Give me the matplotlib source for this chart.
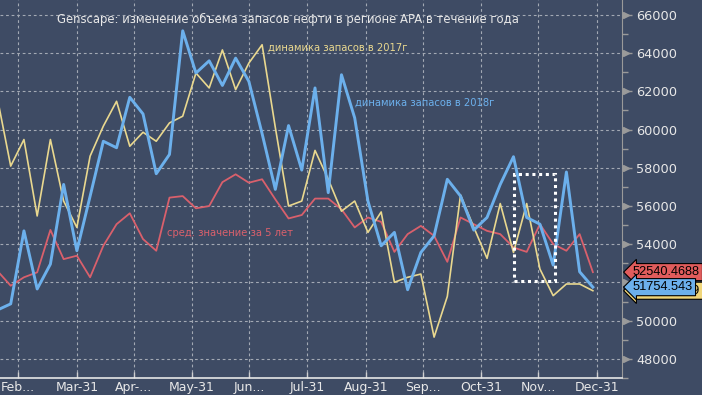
import datetime as dt
import matplotlib
matplotlib.use("Agg")
import matplotlib.pyplot as plt
import matplotlib.dates as mdates
import matplotlib.transforms as mtransforms
from matplotlib.patches import Rectangle

# ---------------- data ----------------
start_date = dt.datetime(2018, 2, 17)
n_weeks = 46
dates = [start_date + dt.timedelta(weeks=i) for i in range(n_weeks)]

stocks_2018 = [50560, 50880, 54700, 51660, 52960, 57130, 53660, 56510, 59390, 59050,
               61690, 60820, 57690, 58700, 65170, 62960, 63600, 62310, 63740, 62520,
               59790, 56870, 60210, 57880, 62180, 56700, 62870, 60610, 56260, 53920,
               54620, 51620, 53570, 54440, 57400, 56520, 54740, 55400, 57130, 58580,
               55400, 55050, 52910, 57780, 52560, 51754.543]

stocks_2017 = [61620, 58090, 59480, 55480, 59480, 56260, 54880, 58610, 60180, 61480,
               59130, 59860, 59390, 60350, 60700, 62960, 62180, 64170, 62090, 63480,
               64440, 60110, 56000, 56260, 58910, 57400, 55730, 56260, 54620, 55690,
               52010, 52270, 52440, 49140, 51270, 56580, 54890, 53260, 56130, 53570,
               56130, 52700, 51310, 51920, 51920, 51567.8789]

avg_5y = [52600, 51830, 52270, 52530, 54750, 53220, 53400, 52270, 53920, 55050,
          55620, 54270, 53660, 56440, 56520, 55880, 56000, 57250, 57660, 57220,
          57400, 56350, 55350, 55530, 56390, 56390, 55830, 54880, 55400, 55170,
          53600, 54530, 54960, 54440, 53080, 55400, 55050, 54700, 54530, 53830,
          53600, 55050, 54010, 53660, 54530, 52540.4688]

last_labels = ["52540.4688", "51754.543", "51567.8789"]

tick_dates = [dt.datetime(2018, 2, 28), dt.datetime(2018, 3, 31), dt.datetime(2018, 4, 30),
              dt.datetime(2018, 5, 31), dt.datetime(2018, 6, 30), dt.datetime(2018, 7, 31),
              dt.datetime(2018, 8, 31), dt.datetime(2018, 9, 30), dt.datetime(2018, 10, 31),
              dt.datetime(2018, 11, 30), dt.datetime(2018, 12, 31)]
tick_labels = ["Feb...", "Mar-31", "Apr-...", "May-31", "Jun...", "Jul-31",
               "Aug-31", "Sep...", "Oct-31", "Nov...", "Dec-31"]
y_ticks = list(range(48000, 66001, 2000))

title = "Genscape: изменение объема запасов нефти в регионе APA в течение года"
lbl_2017 = "динамика запасов в 2017г"
lbl_2018 = "динамика запасов в 2018г"
lbl_avg = "сред. значение за 5 лет"

# ---------------- style ----------------
BG = "#3e4b64"
BLUE = "#6cb0ec"
YELLOW = "#e9d88f"
RED = "#d9606c"
GRID = "#a3a9b4"
TXT = "#e8e8e8"

fig = plt.figure(figsize=(7.02, 3.95), dpi=100)
fig.patch.set_facecolor(BG)
ax = fig.add_axes([0.0, 17 / 395, 622 / 702, 1 - 17 / 395])
ax.set_facecolor(BG)

ax.plot(dates, avg_5y, color=RED, lw=1.3, zorder=3)
ax.plot(dates, stocks_2017, color=YELLOW, lw=1.2, zorder=4)
ax.plot(dates, stocks_2018, color=BLUE, lw=2.1, zorder=5)

ax.set_xlim(dt.datetime(2018, 2, 18, 8), dt.datetime(2019, 1, 13, 10))
ax.set_ylim(47070, 66782)

ax.set_xticks(tick_dates)
ax.set_xticklabels(tick_labels)
ax.set_yticks(y_ticks)
ax.set_yticklabels([str(v) for v in y_ticks])
ax.set_yticks(list(range(47000, 67000, 1000)), minor=True)

ax.yaxis.tick_right()
ax.tick_params(axis="y", which="major", length=7, width=1, color="#9a9a9a",
               labelcolor=TXT, labelsize=9.3, pad=3)
ax.tick_params(axis="y", which="minor", length=4, width=1, color="#9a9a9a")
ax.tick_params(axis="x", which="major", length=4, width=1, color="#cfcfcf",
               labelcolor=TXT, labelsize=9, pad=2, direction="in")

ax.grid(True, which="major", color=GRID, lw=0.8, ls=(0, (2.5, 2.5)))

for s in ["top", "left"]:
    ax.spines[s].set_visible(False)
ax.spines["right"].set_color("#9a9a9a")
ax.spines["bottom"].set_color("#e6e6e6")
ax.spines["bottom"].set_linewidth(1.2)

# triangle markers at major y ticks on the spine
trans = mtransforms.blended_transform_factory(ax.transAxes, ax.transData)
ax.plot([1.006] * len(y_ticks), y_ticks, ls="none", marker=">", ms=5,
        color="#9a9a9a", transform=trans, clip_on=False, zorder=6)

# texts
ax.text(57 / 622, 1 - 19 / 378, title, transform=ax.transAxes, color=TXT, fontsize=8.4,
        ha="left", va="center")
ax.text(268 / 622, 1 - 48 / 378, lbl_2017, transform=ax.transAxes, color=YELLOW,
        fontsize=7.2, ha="left", va="center", zorder=7)
ax.text(355 / 622, 1 - 103 / 378, lbl_2018, transform=ax.transAxes, color=BLUE,
        fontsize=7.2, ha="left", va="center", zorder=7)
ax.text(167 / 622, 1 - 233 / 378, lbl_avg, transform=ax.transAxes, color=RED,
        fontsize=7.2, ha="left", va="center", zorder=7)

# dotted highlight box
x0 = mdates.date2num(dt.datetime(2018, 11, 17, 10))
x1 = mdates.date2num(dt.datetime(2018, 12, 9))
rect = Rectangle((x0, 52090), x1 - x0, 57690 - 52090, fill=False, ec="white",
                 lw=2.2, ls=(0, (1, 1.2)), zorder=8)
ax.add_patch(rect)

# last value labels
for val, lab, col in [(stocks_2017[-1], last_labels[2], "#f0d67a"),
                      (avg_5y[-1], last_labels[0], "#e05c5c"),
                      (stocks_2018[-1], last_labels[1], BLUE)]:
    ax.text(1.0175, val, lab, transform=trans, color="black", fontsize=9.2,
            family=["Liberation Sans", "DejaVu Sans"],
            ha="left", va="center", clip_on=False, zorder=9,
            bbox=dict(boxstyle="larrow,pad=0.2", fc=col, ec="black", lw=0.8))

fig.savefig("out.png", dpi=100, facecolor=BG)
